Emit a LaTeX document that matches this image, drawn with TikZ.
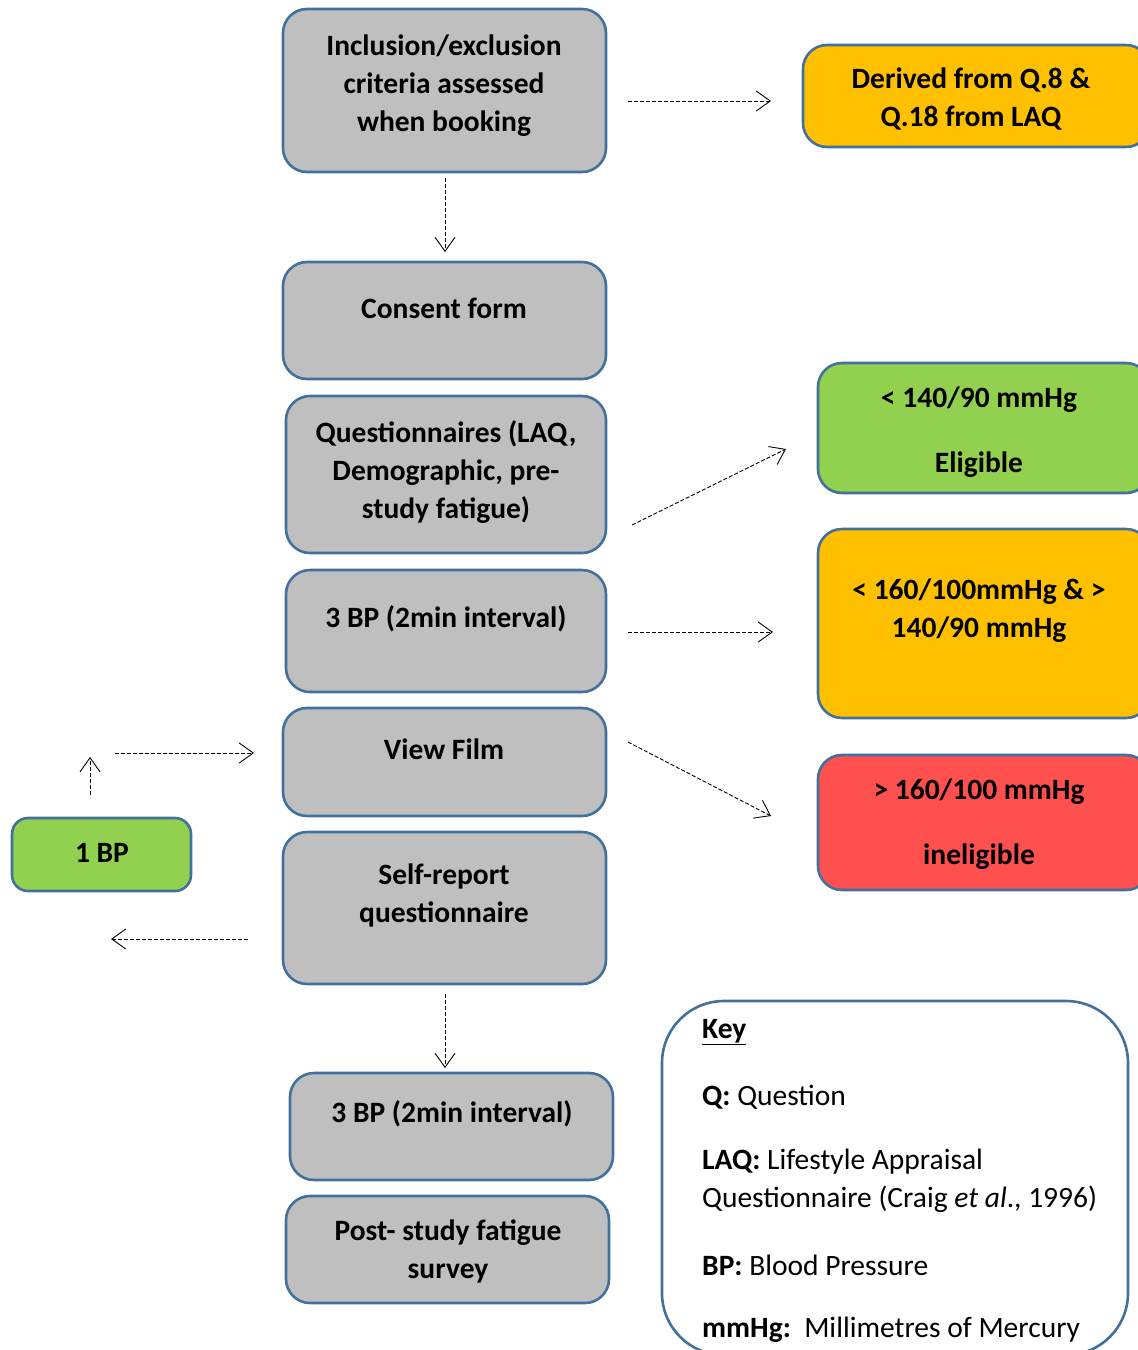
\documentclass[tikz,border=0pt]{standalone}
\usepackage{fontspec}
\setmainfont{Carlito}
\usetikzlibrary{arrows.meta}
\definecolor{boxgray}{HTML}{BFBFBF}
\definecolor{boxline}{HTML}{41719C}
\definecolor{boxorange}{HTML}{FFC000}
\definecolor{boxgreen}{HTML}{92D050}
\definecolor{boxred}{HTML}{FF5050}
\tikzset{
  box/.style={draw=boxline, line width=2.6pt, rounded corners=24pt},
  lbl/.style={font=\fontsize{29.5}{38}\selectfont\bfseries, align=center, inner sep=0pt},
  keytxt/.style={font=\fontsize{29.5}{38}\selectfont, align=left, anchor=west, inner sep=0pt},
  flow/.style={dash pattern=on 4pt off 2pt, line width=0.9pt, -{Straight Barb[length=14pt,width=20pt,line width=0.9pt]}},
}
\begin{document}
\begin{tikzpicture}[x=1pt,y=-1pt]
\useasboundingbox (0,0) rectangle (1138,1350);
% boxes
\draw[box, fill=boxgray] (283,9) rectangle (606,172);
\draw[box, fill=boxorange] (803,45) rectangle (1150,147);
\draw[box, fill=boxgray] (283,262) rectangle (606,379);
\draw[box, fill=boxgray] (286,396) rectangle (606,553);
\draw[box, fill=boxgreen] (818,363) rectangle (1150,493);
\draw[box, fill=boxgray] (286,570) rectangle (606,692);
\draw[box, fill=boxorange] (818,529) rectangle (1150,718);
\draw[box, fill=boxgray] (283,708) rectangle (606,816);
\draw[box, fill=boxred] (818,755) rectangle (1150,890);
\draw[box, fill=boxgreen, rounded corners=16pt] (12,818) rectangle (191,891);
\draw[box, fill=boxgray] (283,832) rectangle (606,984);
\draw[box, fill=boxgray] (290,1073) rectangle (613,1180);
\draw[box, fill=boxgray] (286,1196) rectangle (609,1303);
\draw[box, rounded corners=62pt] (662,1001) rectangle (1128,1355);
% texts
\node[lbl] (t1) at (444,86) {Inclusion/exclusion\\criteria assessed\\when booking};
\node[lbl] (t2) at (971,99) {Derived from Q.8 \&\\Q.18 from LAQ};
\node[lbl] (t3) at (444,308) {Consent form};
\node[lbl] (t4) at (446,472) {Questionnaires (LAQ,\\Demographic, pre-\\study fatigue)};
\node[lbl] (t5) at (979,400) {< 140/90 mmHg};
\node[lbl] (t5b) at (979,465) {Eligible};
\node[lbl] (t6) at (446,619) {3 BP (2min interval)};
\node[lbl] (t7) at (979,611) {< 160/100mmHg \& >\\140/90 mmHg};
\node[lbl] (t8) at (444,749) {View Film};
\node[lbl] (t9) at (979,792) {> 160/100 mmHg};
\node[lbl] (t9b) at (979,857) {ineligible};
\node[lbl] (t10) at (102,853) {1 BP};
\node[lbl] (t11) at (444,895) {Self-report\\questionnaire};
\node[lbl] (t12) at (452,1114) {3 BP (2min interval)};
\node[lbl] (t13) at (448,1251) {Post- study fatigue\\survey};
% key
\node[keytxt] (k1) at (702,1032) {\textbf{\underline{Key}}};
\node[keytxt] (k2) at (702,1097) {\textbf{Q:} Question};
\node[keytxt] (k3) at (702,1181) {\textbf{LAQ:} Lifestyle Appraisal\\Questionnaire (Craig \textit{et al}., 1996)};
\node[keytxt] (k4) at (702,1265) {\textbf{BP:} Blood Pressure};
\node[keytxt] (k5) at (702,1330) {\textbf{mmHg:}\ \ Millimetres of Mercury};
% connectors
\coordinate (a1s) at (628,101); \coordinate (a1e) at (771,101);
\coordinate (a2s) at (445,178); \coordinate (a2e) at (445,252);
\coordinate (a3s) at (632,525); \coordinate (a3e) at (786,449);
\coordinate (a4s) at (628,632); \coordinate (a4e) at (773,632);
\coordinate (a5s) at (628,742); \coordinate (a5e) at (771,816);
\coordinate (a6s) at (90,795); \coordinate (a6e) at (90,757);
\coordinate (a7s) at (115,753); \coordinate (a7e) at (254,753);
\coordinate (a8s) at (248,939); \coordinate (a8e) at (111,939);
\coordinate (a9s) at (445,994); \coordinate (a9e) at (445,1068);
\foreach \i in {1,...,9} \draw[flow] (a\i s) -- (a\i e);
\end{tikzpicture}
\end{document}
